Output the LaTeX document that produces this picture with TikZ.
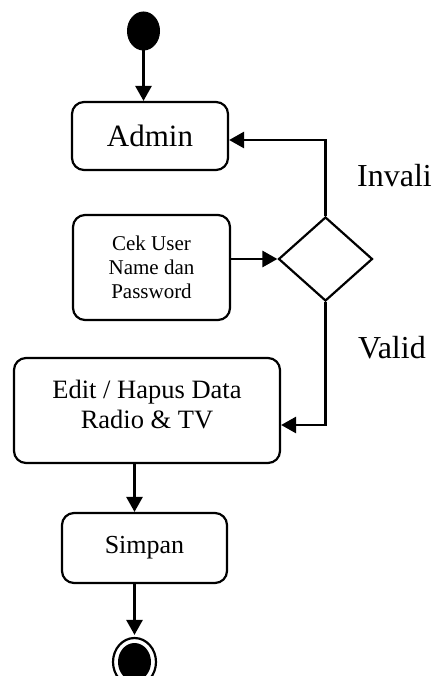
\documentclass[tikz,border=0pt]{standalone}
\usepackage{fontspec}
\setmainfont{Liberation Serif}
\usetikzlibrary{arrows.meta,shapes.geometric,calc}
\begin{document}
\begin{tikzpicture}[x=1pt,y=-1pt,
  actbox/.style={draw,line width=2.2pt,rounded corners=12pt,inner sep=0pt},
  flow/.style={line width=2.8pt,-{Triangle[length=15pt,width=16pt]}},
  guard/.style={font=\fontsize{32}{36}\selectfont,anchor=base west,inner sep=0pt}]
\useasboundingbox (0,0) rectangle (432,676);

% initial and final states
\node[ellipse,fill=black,draw,line width=1pt,minimum width=32pt,minimum height=38pt,inner sep=0pt] (start) at (143.5,31) {};
\node[ellipse,draw,line width=2.2pt,minimum width=43pt,minimum height=48pt,inner sep=0pt] (stop) at (134.5,662) {};
\node[ellipse,fill=black,minimum width=33pt,minimum height=38pt,inner sep=0pt] (stopcore) at (134.5,662) {};

% activities
\node[actbox,minimum width=156pt,minimum height=68pt,font=\fontsize{31}{36}\selectfont] (admin) at (150,136) {Admin};
\node[actbox,minimum width=157pt,minimum height=105pt,align=center,font=\fontsize{21}{24}\selectfont] (cek) at (151.5,267.5) {Cek User\\Name dan\\Password};
\node[actbox,minimum width=266pt,minimum height=105pt] (edit) at (147,410.5) {};
\node[align=center,inner sep=0pt,font=\fontsize{26.5}{30}\selectfont] (edittext) at (147,404.5) {Edit / Hapus Data\\Radio \& TV};
\node[actbox,minimum width=165pt,minimum height=70pt,font=\fontsize{26}{30}\selectfont] (simpan) at (144.5,548) {Simpan};

% decision
\node[diamond,draw,line width=2.2pt,minimum width=94pt,minimum height=84pt,inner sep=0pt] (dec) at (325.5,259) {};

% guard labels
\node[guard] (invalid) at (357,187) {Invali};
\node[guard] (valid) at (358,358) {Valid};

% transitions
\draw[flow] (start.south) -- (start.south |- admin.north);
\draw[flow] (dec.north) |- ([yshift=-4pt]admin.east);
\draw[flow] (cek.east |- dec.west) -- (dec.west);
\draw[flow] (dec.south) |- ([yshift=-14.5pt]edit.east);
\draw[flow] (edit.south -| stop.north) -- (simpan.north -| stop.north);
\draw[flow] (simpan.south -| stop.north) -- ([yshift=2pt]stop.north);
\end{tikzpicture}
\end{document}
